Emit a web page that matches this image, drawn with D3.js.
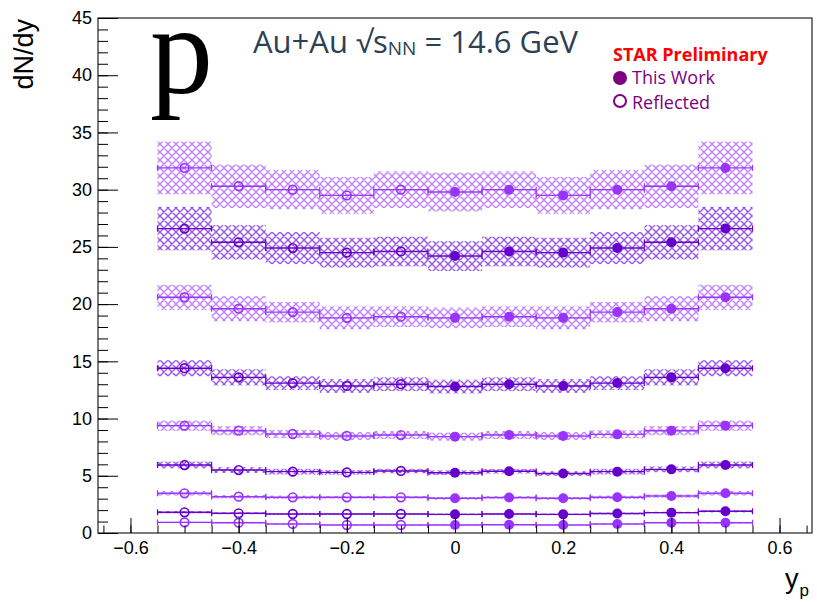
<!DOCTYPE html>
<html><head><meta charset="utf-8">
<script src="https://cdn.jsdelivr.net/npm/d3@7"></script>
<style>body{margin:0;background:#fff}svg{display:block}</style>
</head><body>
<script>
const binCenters = [-0.5,-0.4,-0.3,-0.2,-0.1,0,0.1,0.2,0.3,0.4,0.5];
const s1 = [31.9,30.3,30.0,29.5,30.0,29.8,30.0,29.5,30.0,30.3,31.9];
const s2 = [26.6,25.4,24.9,24.5,24.6,24.2,24.6,24.5,24.9,25.4,26.6];
const s3 = [20.6,19.6,19.3,18.8,18.9,18.8,18.9,18.8,19.3,19.6,20.6];
const s4 = [14.4,13.6,13.1,12.85,13.0,12.8,13.0,12.85,13.1,13.6,14.4];
const s5 = [9.38,8.94,8.65,8.48,8.56,8.42,8.56,8.48,8.62,8.94,9.38];
const s6 = [5.94,5.5,5.36,5.3,5.42,5.27,5.4,5.2,5.36,5.56,5.94];
const s7 = [3.47,3.17,3.12,3.12,3.12,3.03,3.1,3.03,3.12,3.23,3.47];
const s8 = [1.81,1.72,1.66,1.66,1.66,1.63,1.66,1.63,1.7,1.78,1.9];
const s9 = [0.93,0.9,0.79,0.7,0.7,0.7,0.72,0.7,0.79,0.9,0.9];
const sys1 = [2.3,1.9,1.7,1.6,1.6,1.7,1.6,1.6,1.7,1.9,2.3];
const sys2 = [1.9,1.5,1.4,1.3,1.3,1.3,1.3,1.3,1.4,1.5,1.9];
const sys3 = [1.1,1.1,0.9,1.0,0.9,0.9,0.9,1.0,0.9,1.1,1.1];
const sys4 = [0.7,0.7,0.6,0.6,0.6,0.6,0.6,0.6,0.6,0.7,0.7];
const sys5 = [0.45,0.4,0.35,0.35,0.35,0.35,0.35,0.35,0.35,0.4,0.45];
const sys6 = [0.3,0.25,0.25,0.2,0.2,0.2,0.2,0.2,0.25,0.25,0.3];
const sys7 = [0.2,0.15,0.15,0.12,0.12,0.12,0.12,0.12,0.15,0.15,0.2];
const sys8 = [0.1,0.08,0.08,0.07,0.07,0.07,0.07,0.07,0.08,0.08,0.1];
const sys9 = [0.06,0.05,0.05,0.04,0.04,0.04,0.04,0.04,0.05,0.05,0.06];
const seriesValues = [s1,s2,s3,s4,s5,s6,s7,s8,s9];
const seriesSys = [sys1,sys2,sys3,sys4,sys5,sys6,sys7,sys8,sys9];
const seriesTone = ["light","dark","light","dark","light","dark","light","dark","light"];
const binHalfWidth = 0.05;
const xTicks = [-0.6,-0.4,-0.2,0,0.2,0.4,0.6];
const yTicks = [0,5,10,15,20,25,30,35,40,45];

const W=817,H=602;
const L=98,R=812,T=18,B=533;
const colors = {light:"#9933ff", dark:"#6600cc"};
const hatchColors = {light:"#b873ff", dark:"#8c45e0"};

const svg = d3.select("body").append("svg").attr("width",W).attr("height",H)
  .style("font-family","'Liberation Sans',Arial,sans-serif");
const x = d3.scaleLinear().domain([-0.66,0.66]).range([L,R]);
const y = d3.scaleLinear().domain([0,45]).range([B,T]);

const defs = svg.append("defs");
["light","dark"].forEach(k=>{
  const p = defs.append("pattern").attr("id","hatch-"+k).attr("patternUnits","userSpaceOnUse")
    .attr("width",8).attr("height",8);
  p.append("path").attr("d","M0,0 L8,8 M8,0 L0,8 M-1,7 L1,9 M7,-1 L9,1 M-1,1 L1,-1 M7,9 L9,7")
    .attr("stroke",hatchColors[k]).attr("stroke-width",1.4).attr("fill","none")
    .attr("opacity",k==="light"?0.9:0.9);
});

// hatch boxes
seriesValues.forEach((vals,si)=>{
  const tone = seriesTone[si];
  svg.append("g").selectAll("rect").data(vals.map((v,i)=>({x:binCenters[i],v,e:seriesSys[si][i]})))
    .join("rect")
    .attr("x",d=>x(d.x-binHalfWidth)).attr("width",d=>x(d.x+binHalfWidth)-x(d.x-binHalfWidth))
    .attr("y",d=>y(d.v+d.e)).attr("height",d=>y(d.v-d.e)-y(d.v+d.e))
    .attr("fill","url(#hatch-"+tone+")");
});

// lines, caps, markers
seriesValues.forEach((vals,si)=>{
  const tone = seriesTone[si], c = colors[tone];
  const g = svg.append("g");
  const data = vals.map((v,i)=>({x:binCenters[i],v}));
  g.selectAll("line.h").data(data).join("line")
    .attr("x1",d=>x(d.x-binHalfWidth)).attr("x2",d=>x(d.x+binHalfWidth))
    .attr("y1",d=>y(d.v)).attr("y2",d=>y(d.v)).attr("stroke",c).attr("stroke-width",1.4);
  data.forEach(d=>{
    [d.x-binHalfWidth,d.x+binHalfWidth].forEach(xx=>{
      g.append("line").attr("x1",x(xx)).attr("x2",x(xx)).attr("y1",y(d.v)-3).attr("y2",y(d.v)+3)
        .attr("stroke",c).attr("stroke-width",1.2);
    });
  });
  g.selectAll("circle").data(data).join("circle")
    .attr("cx",d=>x(d.x)).attr("cy",d=>y(d.v))
    .attr("r",d=>d.x<0?4.3:5)
    .attr("fill",d=>d.x<0?"none":c)
    .attr("stroke",c).attr("stroke-width",d=>d.x<0?1.7:0);
});

// frame
svg.append("rect").attr("x",L).attr("y",T).attr("width",R-L).attr("height",B-T)
  .attr("fill","none").attr("stroke","#222").attr("stroke-width",1.2);

// y axis
const yAxis = svg.append("g").attr("transform",`translate(${L},0)`)
  .call(d3.axisLeft(y).tickValues(yTicks).tickSize(-20).tickPadding(6).tickFormat(d3.format("d")));
yAxis.select(".domain").remove();
yAxis.selectAll("text").attr("font-size",18).attr("font-family","'Liberation Sans',Arial,sans-serif").attr("fill","#000");
yAxis.selectAll("line").attr("stroke","#000");
const yMinor = svg.append("g").attr("transform",`translate(${L},0)`)
  .call(d3.axisLeft(y).tickValues(d3.range(0,46,1)).tickSize(-10).tickFormat(""));
yMinor.select(".domain").remove();
yMinor.selectAll("line").attr("stroke","#000");

// x axis
const xAxis = svg.append("g").attr("transform",`translate(0,${B})`)
  .call(d3.axisBottom(x).tickValues(xTicks).tickSize(-15).tickPadding(8)
    .tickFormat(d=>d===0?"0":d3.format(".1f")(d).replace("-","\u2212")));
xAxis.select(".domain").remove();
xAxis.selectAll("text").attr("font-size",18).attr("font-family","'Liberation Sans',Arial,sans-serif").attr("fill","#000");
xAxis.selectAll("line").attr("stroke","#000");
const xMinor = svg.append("g").attr("transform",`translate(0,${B})`)
  .call(d3.axisBottom(x).tickValues(d3.range(-13,14).map(i=>i*0.05)).tickSize(-7.5).tickFormat(""));
xMinor.select(".domain").remove();
xMinor.selectAll("line").attr("stroke","#000");

// axis titles
svg.append("text").attr("transform","translate(33,19) rotate(-90)").attr("text-anchor","end")
  .attr("font-size",27).text("dN/dy");
const xt = svg.append("text").attr("x",785).attr("y",588).attr("font-size",27);
xt.append("tspan").text("y");
xt.append("tspan").attr("font-size",17).attr("dy",8).attr("dx",1).text("p");

// big p
svg.append("text").attr("x",150).attr("y",93).attr("font-family","'Liberation Serif','Times New Roman',serif")
  .attr("font-size",126).attr("fill","#000").text("p");

// title
const tt = svg.append("text").attr("x",253).attr("y",53).attr("font-family","'Open Sans',sans-serif")
  .attr("font-size",31).attr("fill","#2e4053");
tt.append("tspan").text("Au+Au \u221As");
tt.append("tspan").attr("font-size",19).attr("dy",2).text("NN");
tt.append("tspan").attr("dy",-2).text(" = 14.6 GeV");

// legend
svg.append("text").attr("x",613).attr("y",61).attr("font-family","'Open Sans',sans-serif")
  .attr("font-weight","bold").attr("font-size",18).attr("fill","#ff0000").text("STAR Preliminary");
svg.append("circle").attr("cx",620).attr("cy",78).attr("r",7).attr("fill","#800080");
svg.append("text").attr("x",632).attr("y",84).attr("font-family","'Open Sans',sans-serif")
  .attr("font-size",18).attr("fill","#800080").text("This Work");
svg.append("circle").attr("cx",620).attr("cy",101).attr("r",6).attr("fill","none").attr("stroke","#800080").attr("stroke-width",2);
svg.append("text").attr("x",632).attr("y",109).attr("font-family","'Open Sans',sans-serif")
  .attr("font-size",18).attr("fill","#800080").text("Reflected");
</script>
</body></html>
